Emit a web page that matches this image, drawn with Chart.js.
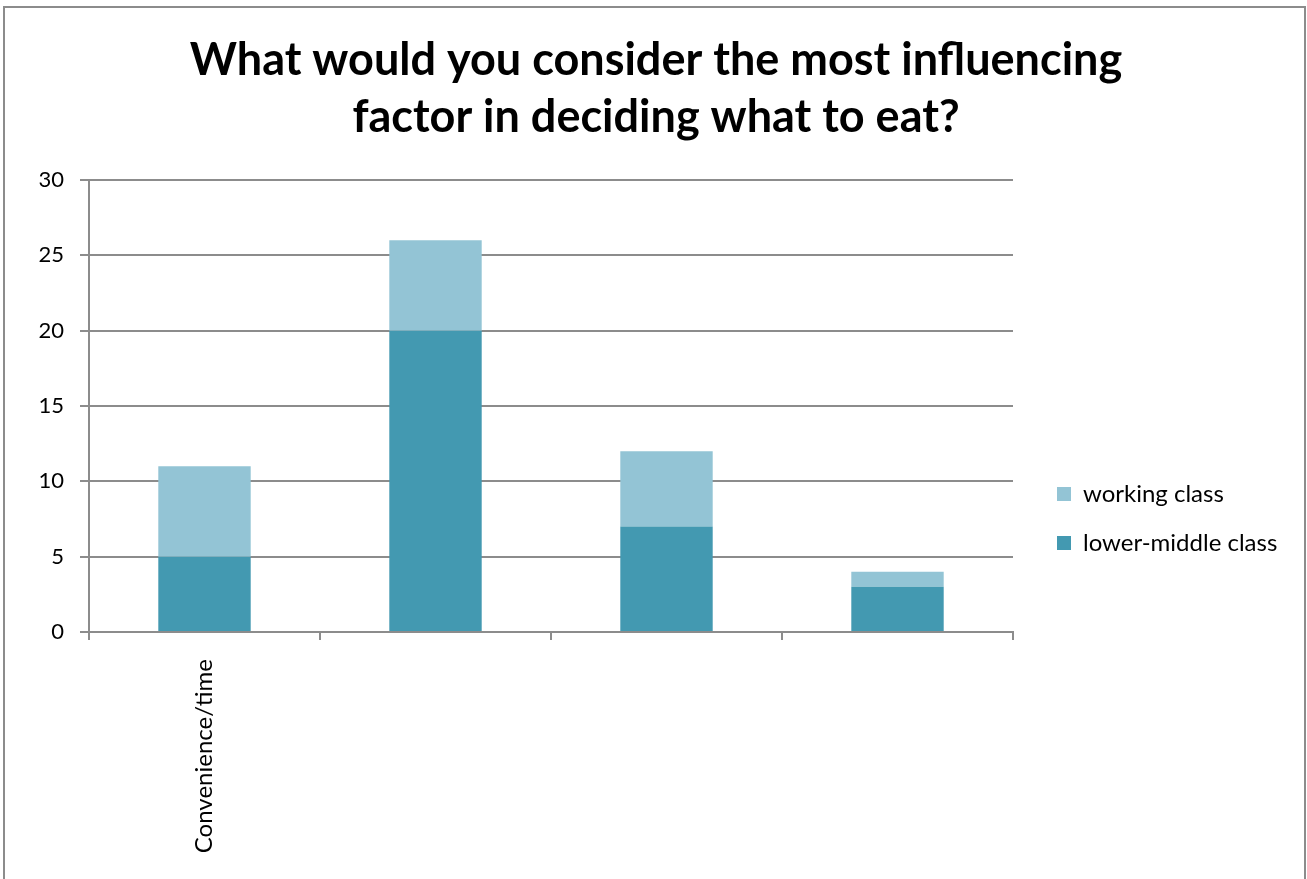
<!DOCTYPE html>
<html>
<head>
<meta charset="utf-8">
<script src="https://cdn.jsdelivr.net/npm/chart.js@4/dist/chart.umd.min.js"></script>
<style>
    body { margin: 0; background: #fff; }
    #frame {
        position: absolute; left: 3px; top: 6px;
        width: 1299px; height: 900px;
        border: 2px solid #8c8c8c;
    }
    #chart { position: absolute; left: 0; top: 0; }
</style>
</head>
<body>
<div id="frame"></div>
<canvas id="chart" width="1307" height="879"></canvas>
<script>
// DATA
const categories = ["Convenience/time", "", "", ""]
const lowerMiddle = [5, 20, 7, 3]
const working = [6, 6, 5, 1]
const yTicks = [0, 5, 10, 15, 20, 25, 30]

const titleLines = ["What would you consider the most influencing", "factor in deciding what to eat?"]

// STYLE
const FONT = "Lato"
const GRID = "#8c8c8c"
const legendSize = 24
const legendPad = 25
const legendLeft = 1032
const plotLeft = 89

// legend width so its boxes start where the reference has them
const measure = document.createElement("canvas").getContext("2d")
measure.font = legendSize + "px " + FONT
const textW = measure.measureText("lower-middle class").width
const legendW = legendPad + 14 + legendSize / 2 + textW + 10
const padRight = Math.max(0, 1307 - legendLeft - legendW)
// title is centred a little right of the canvas middle
const padLeft = padRight + 5

const chart = new Chart(document.getElementById("chart"), {
    type: "bar",
    data: {
        labels: categories,
        datasets: [{
                label: "lower-middle class",
                data: lowerMiddle,
                backgroundColor: "#4399b1",
                borderWidth: 0
            },
            {
                label: "working class",
                data: working,
                backgroundColor: "#93c4d5",
                borderWidth: 0
            }
        ]
    },
    options: {
        responsive: false,
        animation: false,
        layout: { padding: { left: padLeft, right: padRight, top: 0, bottom: 0 } },
        datasets: { bar: { barPercentage: 0.4, categoryPercentage: 1 } },
        plugins: {
            tooltip: { enabled: false },
            title: {
                display: true,
                text: titleLines,
                color: "#000",
                font: { family: FONT, size: 45, weight: "bold", lineHeight: "57px" },
                padding: { top: 32, bottom: 34 }
            },
            legend: {
                position: "right",
                align: "start",
                fullSize: false,
                reverse: true,
                title: { display: true, text: "", font: { size: 12, lineHeight: "12px" }, padding: { top: 265, bottom: 0 } },
                labels: {
                    boxWidth: 14,
                    boxHeight: 14,
                    padding: legendPad,
                    color: "#000",
                    font: { family: FONT, size: legendSize }
                }
            }
        },
        scales: {
            x: {
                stacked: true,
                grid: { drawOnChartArea: false, color: GRID, lineWidth: 2, tickLength: 8 },
                border: { color: GRID, width: 2 },
                ticks: {
                    autoSkip: false, maxRotation: 90, minRotation: 90, padding: 19,
                    color: "#000", font: { family: FONT, size: 24 }
                },
                afterFit: s => { s.height = 247 }
            },
            y: {
                stacked: true,
                min: yTicks[0],
                max: yTicks[yTicks.length - 1],
                grid: { color: GRID, lineWidth: 2, tickLength: 9 },
                border: { color: GRID, width: 2 },
                ticks: { stepSize: 5, padding: 16, color: "#000", font: { family: FONT, size: 22 } },
                afterFit: s => { s.width = plotLeft - padLeft }
            },
            // hidden axis, only keeps a gap between the plot and the legend
            gap: {
                type: "linear",
                position: "right",
                display: false,
                afterFit: s => { s.width = legendLeft - 1013 }
            }
        }
    }
});
</script>
</body>
</html>
